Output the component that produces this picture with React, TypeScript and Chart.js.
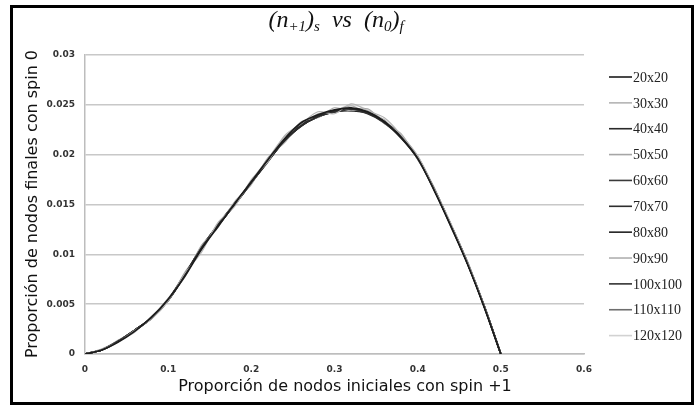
import React, { useEffect, useRef } from 'react';
import { Chart, registerables } from 'chart.js';
Chart.register(...registerables);

const xValues = [0, 0.02, 0.04, 0.06, 0.08, 0.1, 0.12, 0.14, 0.16, 0.18, 0.2, 0.22, 0.24, 0.26, 0.28, 0.3, 0.32, 0.34, 0.36, 0.38, 0.4, 0.42, 0.44, 0.46, 0.48, 0.5];

const seriesNames = ['20x20', '30x30', '40x40', '50x50', '60x60', '70x70', '80x80', '90x90', '100x100', '110x110', '120x120'];
const seriesColors = ['#1c1c1c', '#b4b4b4', '#2a2a2a', '#a6a6a6', '#3a3a3a', '#2e2e2e', '#222222', '#b0b0b0', '#333333', '#6e6e6e', '#d2d2d2'];

const s20x20 = [0, 0.0004, 0.0012, 0.0023, 0.0037, 0.0055, 0.0078, 0.0105, 0.0128, 0.0151, 0.0173, 0.0195, 0.0216, 0.0232, 0.0240, 0.0245, 0.0247, 0.0243, 0.0233, 0.0217, 0.0196, 0.0164, 0.0128, 0.0090, 0.0047, 0];
const s30x30 = [0, 0.0005, 0.0012, 0.0024, 0.0035, 0.0053, 0.0081, 0.0102, 0.0132, 0.0148, 0.0175, 0.0193, 0.0219, 0.0231, 0.0243, 0.0241, 0.0251, 0.0244, 0.0237, 0.0220, 0.0199, 0.0166, 0.0131, 0.0092, 0.0049, 0];
const s40x40 = [0, 0.0004, 0.0013, 0.0024, 0.0036, 0.0054, 0.0080, 0.0106, 0.0129, 0.0150, 0.0172, 0.0194, 0.0214, 0.0229, 0.0238, 0.0244, 0.0246, 0.0242, 0.0232, 0.0218, 0.0197, 0.0165, 0.0129, 0.0091, 0.0048, 0];
const s50x50 = [0, 0.0004, 0.0014, 0.0023, 0.0037, 0.0056, 0.0077, 0.0109, 0.0127, 0.0153, 0.0170, 0.0197, 0.0212, 0.0233, 0.0237, 0.0247, 0.0244, 0.0246, 0.0231, 0.0221, 0.0195, 0.0167, 0.0127, 0.0093, 0.0047, 0];
const s60x60 = [0, 0.0004, 0.0013, 0.0024, 0.0036, 0.0054, 0.0079, 0.0107, 0.0129, 0.0150, 0.0172, 0.0194, 0.0214, 0.0229, 0.0238, 0.0243, 0.0245, 0.0242, 0.0233, 0.0218, 0.0197, 0.0165, 0.0129, 0.0091, 0.0048, 0];
const s70x70 = [0, 0.0004, 0.0013, 0.0024, 0.0036, 0.0054, 0.0079, 0.0106, 0.0130, 0.0151, 0.0172, 0.0193, 0.0215, 0.0230, 0.0239, 0.0243, 0.0245, 0.0241, 0.0232, 0.0217, 0.0196, 0.0165, 0.0129, 0.0091, 0.0048, 0];
const s80x80 = [0, 0.0004, 0.0013, 0.0024, 0.0036, 0.0054, 0.0079, 0.0107, 0.0129, 0.0150, 0.0172, 0.0194, 0.0214, 0.0229, 0.0238, 0.0243, 0.0244, 0.0242, 0.0233, 0.0218, 0.0197, 0.0165, 0.0129, 0.0091, 0.0048, 0];
const s90x90 = [0, 0.0005, 0.0013, 0.0022, 0.0038, 0.0053, 0.0082, 0.0104, 0.0131, 0.0149, 0.0174, 0.0196, 0.0218, 0.0228, 0.0241, 0.0242, 0.0249, 0.0241, 0.0235, 0.0216, 0.0198, 0.0163, 0.0130, 0.0090, 0.0049, 0];
const s100x100 = [0, 0.0004, 0.0013, 0.0024, 0.0036, 0.0054, 0.0079, 0.0107, 0.0129, 0.0150, 0.0172, 0.0194, 0.0214, 0.0229, 0.0238, 0.0243, 0.0245, 0.0242, 0.0233, 0.0218, 0.0197, 0.0165, 0.0129, 0.0091, 0.0048, 0];
const s110x110 = [0, 0.0004, 0.0013, 0.0024, 0.0036, 0.0055, 0.0080, 0.0106, 0.0130, 0.0151, 0.0173, 0.0195, 0.0215, 0.0230, 0.0239, 0.0244, 0.0246, 0.0243, 0.0234, 0.0219, 0.0198, 0.0166, 0.0130, 0.0092, 0.0048, 0];
const s120x120 = [0, 0.0004, 0.0012, 0.0024, 0.0036, 0.0055, 0.0079, 0.0107, 0.0130, 0.0152, 0.0171, 0.0196, 0.0216, 0.0230, 0.0240, 0.0244, 0.0250, 0.0245, 0.0234, 0.0219, 0.0197, 0.0166, 0.0130, 0.0092, 0.0048, 0];

const seriesValues = [s20x20, s30x30, s40x40, s50x50, s60x60, s70x70, s80x80, s90x90, s100x100, s110x110, s120x120];
const seriesWidths = [1.7, 1.1, 1.7, 1.1, 1.6, 1.6, 1.7, 1.1, 1.6, 1.3, 1.1];

const yTickLabels = ['0', '0.005', '0.01', '0.015', '0.02', '0.025', '0.03'];
const xTickLabels = ['0', '0.1', '0.2', '0.3', '0.4', '0.5', '0.6'];

const titleParts = [
  { t: '(', sub: false },
  { t: 'n', sub: false },
  { t: '+1', sub: true },
  { t: ')', sub: false },
  { t: 's', sub: true },
  { t: '  vs  ', sub: false },
  { t: '(', sub: false },
  { t: 'n', sub: false },
  { t: '0', sub: true },
  { t: ')', sub: false },
  { t: 'f', sub: true },
];
const xAxisTitle = 'Proporción de nodos iniciales con spin +1';
const yAxisTitle = 'Proporción de nodos finales con spin 0';

const decorPlugin = {
  id: 'decor',
  beforeDraw(chart: any) {
    const ctx = chart.ctx;
    ctx.save();
    ctx.fillStyle = '#ffffff';
    ctx.fillRect(0, 0, chart.width, chart.height);
    ctx.restore();
  },
  afterDraw(chart: any) {
    const ctx = chart.ctx;
    ctx.save();
    // frame
    ctx.strokeStyle = '#000';
    ctx.lineWidth = 3;
    ctx.strokeRect(11.5, 6.5, 681, 397);

    // title with subscripts
    const mainFont = 'italic 24px "Liberation Serif", "DejaVu Serif", serif';
    const subFont = 'italic 15px "Liberation Serif", "DejaVu Serif", serif';
    let total = 0;
    for (const p of titleParts) {
      ctx.font = p.sub ? subFont : mainFont;
      total += ctx.measureText(p.t).width;
    }
    let x = 336 - total / 2;
    const base = 27;
    ctx.fillStyle = '#111';
    ctx.textBaseline = 'alphabetic';
    ctx.textAlign = 'left';
    for (const p of titleParts) {
      ctx.font = p.sub ? subFont : mainFont;
      ctx.fillText(p.t, x, p.sub ? base + 4 : base);
      x += ctx.measureText(p.t).width;
    }

    // axis titles
    ctx.fillStyle = '#111';
    ctx.font = '16px "DejaVu Sans", sans-serif';
    ctx.textAlign = 'center';
    ctx.textBaseline = 'middle';
    ctx.fillText(xAxisTitle, 345, 387);
    ctx.save();
    ctx.translate(33, 204);
    ctx.rotate(-Math.PI / 2);
    ctx.fillText(yAxisTitle, 0, 0);
    ctx.restore();

    // legend
    ctx.font = '14px "Liberation Serif", serif';
    ctx.textAlign = 'left';
    ctx.textBaseline = 'middle';
    for (let i = 0; i < seriesNames.length; i++) {
      const y = 77 + i * 25.86;
      ctx.strokeStyle = seriesColors[i];
      ctx.lineWidth = 1.6;
      ctx.beginPath();
      ctx.moveTo(609, y);
      ctx.lineTo(632, y);
      ctx.stroke();
      ctx.fillStyle = '#222';
      ctx.fillText(seriesNames[i], 633, y + 1);
    }
    ctx.restore();
  },
};

export default function App() {
  const ref = useRef<HTMLCanvasElement | null>(null);
  useEffect(() => {
    document.body.style.margin = '0';
    const canvas = ref.current!;
    const datasets = seriesNames.map((name, i) => ({
      label: name,
      data: xValues.map((xv, j) => ({ x: xv, y: seriesValues[i][j] })),
      borderColor: seriesColors[i],
      backgroundColor: seriesColors[i],
      borderWidth: seriesWidths[i],
      pointRadius: 0,
      tension: 0.3,
      fill: false,
    }));
    const chart = new Chart(canvas, {
      type: 'line',
      data: { datasets },
      options: {
        responsive: false,
        animation: false,
        devicePixelRatio: 1,
        layout: { padding: { left: 0, top: 55, right: 114, bottom: 0 } },
        plugins: { legend: { display: false }, title: { display: false }, tooltip: { enabled: false } },
        scales: {
          x: {
            type: 'linear',
            min: 0,
            max: 0.6,
            afterFit: (s: any) => { s.height = 54; },
            ticks: {
              stepSize: 0.1,
              padding: 10,
              color: '#333',
              font: { family: '"DejaVu Sans", sans-serif', size: 9, weight: 'bold' },
              callback: (_v: any, i: number) => xTickLabels[i],
              maxRotation: 0,
            },
            grid: { display: false, drawTicks: false },
            border: { display: true, color: '#bdbdbd', width: 1.5 },
          },
          y: {
            type: 'linear',
            min: 0,
            max: 0.03,
            afterFit: (s: any) => { s.width = 85; },
            ticks: {
              stepSize: 0.005,
              padding: 10,
              color: '#333',
              font: { family: '"DejaVu Sans", sans-serif', size: 9, weight: 'bold' },
              callback: (_v: any, i: number) => yTickLabels[i],
            },
            grid: { color: '#c8c8c8', lineWidth: 1.5, drawTicks: false },
            border: { display: true, color: '#bdbdbd', width: 1.5 },
          },
        },
      },
      plugins: [decorPlugin],
    });
    return () => chart.destroy();
  }, []);
  return <canvas ref={ref} width={698} height={408} style={{ display: 'block' }} />;
}
